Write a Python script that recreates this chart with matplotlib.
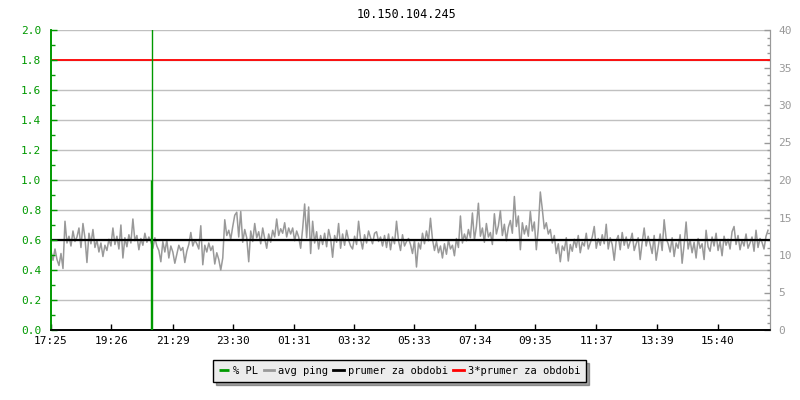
import matplotlib
matplotlib.use('Agg')
import matplotlib.pyplot as plt
import numpy as np
from matplotlib.ticker import MultipleLocator

plt.rcParams['font.family'] = ['DejaVu Sans Mono']
plt.rcParams['font.size'] = 8

title = '10.150.104.245'

# avg ping [ms], one sample every 4 minutes starting 17:25
ping = [
    10.5, 9.3, 10.8, 9.4, 8.6, 10.2, 8.2, 14.5, 11.6, 12.5,
    11.2, 13.2, 11.8, 12.4, 13.6, 11.0, 14.2, 12.3, 9.0, 12.9,
    11.5, 13.4, 11.0, 12.0, 10.4, 11.6, 9.8, 11.3, 10.6, 12.1,
    11.2, 13.6, 11.4, 12.5, 10.8, 14.0, 9.6, 12.3, 11.1, 12.7,
    11.6, 14.8, 11.9, 12.6, 10.7, 12.2, 11.3, 12.9, 11.7, 12.4,
    11.8, 10.9, 12.3, 11.2, 10.6, 9.1, 11.8, 10.4, 12.0, 9.6,
    11.2, 10.4, 8.9, 10.1, 11.3, 10.6, 11.0, 9.0, 10.5, 11.4,
    13.0, 11.2, 12.0, 11.5, 10.8, 13.9, 8.7, 11.3, 10.4, 11.6,
    10.6, 11.2, 8.8, 10.3, 9.4, 8.0, 9.6, 14.7, 12.6, 13.3,
    12.1, 13.8, 15.3, 15.7, 12.4, 15.8, 11.7, 13.4, 12.3, 9.1,
    13.2, 11.8, 14.2, 12.3, 13.1, 11.5, 13.6, 12.2, 10.9, 12.8,
    11.7, 13.3, 12.4, 14.8, 12.6, 13.5, 12.9, 14.3, 12.4, 13.6,
    12.8, 13.6, 11.9, 13.2, 12.4, 10.9, 13.5, 16.8, 12.3, 16.4,
    10.2, 14.5, 11.6, 13.1, 10.8, 12.6, 11.4, 12.9, 11.1, 13.4,
    12.2, 9.7, 12.6, 11.7, 14.2, 10.9, 12.8, 11.3, 13.3, 12.0,
    11.2, 10.8, 12.5, 11.4, 14.5, 12.1, 10.8, 12.7, 11.6, 13.2,
    12.3, 11.5, 12.9, 13.1, 11.8, 12.4, 11.2, 12.6, 11.0, 12.8,
    10.7, 12.4, 11.5, 14.5, 11.9, 10.6, 12.7, 11.2, 11.8, 12.2,
    11.4, 10.2, 12.0, 8.4, 11.6, 10.8, 12.9, 11.5, 13.2, 11.9,
    14.9, 12.1, 10.6, 11.8, 10.3, 11.2, 9.6, 11.5, 10.1, 12.0,
    10.8, 11.3, 9.9, 12.2, 11.0, 15.2, 11.6, 12.8, 11.9, 13.4,
    12.3, 15.6, 12.0, 13.8, 16.9, 12.5, 13.6, 11.7, 14.2, 12.4,
    13.0, 11.4, 15.5, 12.8, 13.9, 15.9, 12.6, 14.1, 11.9, 13.7,
    14.6, 12.9, 17.8, 13.8, 15.2, 10.7, 14.3, 12.8, 13.9, 12.5,
    15.8, 13.2, 14.4, 10.7, 13.6, 18.4, 16.1, 13.5, 14.3, 12.8,
    13.4, 11.6, 12.6, 10.2, 11.5, 9.1, 11.2, 10.6, 12.3, 9.2,
    11.4, 10.5, 12.1, 11.0, 12.6, 10.3, 11.7, 11.2, 12.9, 10.8,
    11.6, 12.4, 13.8, 10.9, 12.2, 11.3, 12.7, 11.5, 14.1, 10.8,
    12.3, 11.4, 9.3, 11.9, 12.6, 10.7, 13.0, 11.3, 12.4, 10.9,
    11.8, 12.9, 10.6, 11.5, 12.3, 9.4, 11.7, 13.6, 11.2, 12.5,
    11.4, 10.2, 12.6, 9.3, 11.1, 12.8, 10.6, 14.7, 12.2, 11.5,
    10.4, 12.3, 9.8, 11.6, 10.9, 12.7, 8.9, 11.4, 14.4, 10.8,
    12.0, 10.3, 11.7, 9.6, 12.2, 10.9, 11.5, 9.4, 13.3, 11.1,
    10.5, 12.4, 11.2, 12.9, 10.6, 11.8, 9.9, 12.5, 11.3, 12.1,
    10.8, 13.1, 13.8, 11.4, 12.6, 10.7, 12.0, 11.2, 12.8, 10.9,
    11.6, 12.4, 10.5, 13.3, 11.0, 12.2, 11.7, 10.8, 12.5, 13.3,
]
step_min = 4

# packet loss events (minutes after 17:25, % PL)
pl_time = [200, 202]
pl_value = [1.0, 2.5]

avg_ping = 12.0  # prumer za obdobi

tick_labels = ['17:25', '19:26', '21:29', '23:30', '01:31', '03:32',
               '05:33', '07:34', '09:35', '11:37', '13:39', '15:40']


def minutes_from_start(lbl, start='17:25'):
    h, m = map(int, lbl.split(':'))
    h0, m0 = map(int, start.split(':'))
    return ((h * 60 + m) - (h0 * 60 + m0)) % 1440


green = '#009900'
gray = '#999999'
grid = '#c0c0c0'

fig = plt.figure(figsize=(8, 4), dpi=100)
ax = fig.add_axes([51 / 800, 70 / 400, 719 / 800, 300 / 400])
ax2 = ax.twinx()

t = np.arange(len(ping)) * step_min

ax.set_xlim(0, 1440)
ax.set_ylim(0, 2.0)
ax2.set_ylim(0, 40)

# grid lines, drawn on the right axis (same positions as 0.2 steps on the left)
for yv in range(4, 41, 4):
    ax2.axhline(yv, color=grid, lw=1.0, zorder=0)

ax2.plot(t, ping, color=gray, lw=1.1, zorder=2, label='avg ping')
ax2.axhline(avg_ping, color='black', lw=1.6, zorder=3, label='prumer za obdobi')
ax2.axhline(3 * avg_ping, color='red', lw=1.3, zorder=3, label='3*prumer za obdobi')
ax.vlines(pl_time, 0, pl_value, color=green, lw=1.0, zorder=4, label='% PL')

ax.set_zorder(ax2.get_zorder() + 1)
ax.patch.set_visible(False)

# left axis
ax.yaxis.set_major_locator(MultipleLocator(0.2))
ax.yaxis.set_minor_locator(MultipleLocator(0.1))
ax.yaxis.set_major_formatter(plt.FormatStrFormatter('%.1f'))
ax.tick_params(axis='y', which='both', direction='in', colors=green, labelcolor=green)
ax.tick_params(axis='y', which='major', length=4, width=1, pad=7)
ax.tick_params(axis='y', which='minor', length=3, width=1)

# bottom axis
ax.set_xticks([minutes_from_start(s) for s in tick_labels])
ax.set_xticklabels(tick_labels)
ax.tick_params(axis='x', direction='in', length=4, width=1, color='black', pad=4)

# right axis
ax2.yaxis.set_major_locator(MultipleLocator(5))
ax2.yaxis.set_minor_locator(MultipleLocator(1))
ax2.tick_params(axis='y', which='both', direction='in', colors=gray, labelcolor=gray)
ax2.tick_params(axis='y', which='major', length=4, width=1, pad=6)
ax2.tick_params(axis='y', which='minor', length=2.5, width=1)

for a in (ax, ax2):
    a.spines['top'].set_visible(False)
    a.spines['left'].set_color(green)
    a.spines['right'].set_color(gray)
    a.spines['bottom'].set_color('black')
    a.spines['left'].set_linewidth(1.2)
    a.spines['bottom'].set_linewidth(1.2)

fig.text(0.508, 0.965, title, ha='center', va='center', fontsize=8.5)

h1, l1 = ax.get_legend_handles_labels()
h2, l2 = ax2.get_legend_handles_labels()
leg = fig.legend(h1 + h2, l1 + l2, loc='center', bbox_to_anchor=(0.4995, 0.0725),
                 ncol=4, frameon=True, fancybox=False, shadow=True,
                 handlelength=1.0, handletextpad=0.4, columnspacing=0.5,
                 borderpad=0.55, borderaxespad=0, fontsize=7.5)
leg.get_frame().set_facecolor('#ececec')
leg.get_frame().set_edgecolor('black')
leg.get_frame().set_alpha(1)
for ln in leg.get_lines():
    ln.set_linewidth(2)

fig.savefig('out.png', dpi=100)
